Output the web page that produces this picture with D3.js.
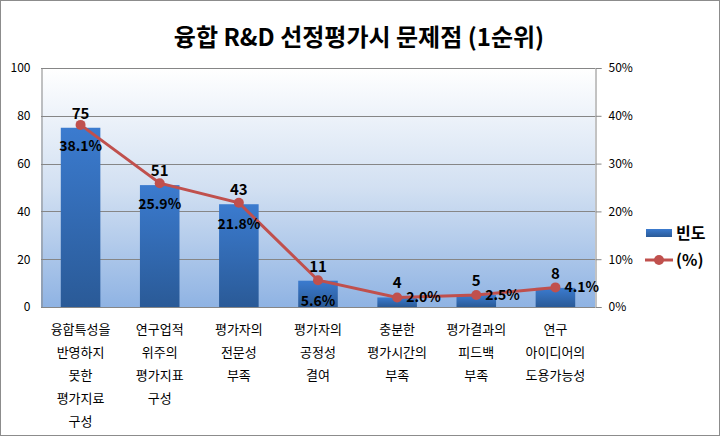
<!DOCTYPE html>
<html><head><meta charset="utf-8">
<script src="https://cdn.jsdelivr.net/npm/d3@7"></script>
<style>
body{margin:0;background:#fff;}
text{font-family:"Noto Sans CJK KR","Noto Sans",sans-serif;}
</style></head>
<body><svg id="c" width="721" height="437"></svg>
<script>
const categories = [
  ["융합특성을","반영하지","못한","평가지료","구성"],
  ["연구업적","위주의","평가지표","구성"],
  ["평가자의","전문성","부족"],
  ["평가자의","공정성","결여"],
  ["충분한","평가시간의","부족"],
  ["평가결과의","피드백","부족"],
  ["연구","아이디어의","도용가능성"]
];
const freq = [75, 51, 43, 11, 4, 5, 8];
const pct = [38.1, 25.9, 21.8, 5.6, 2.0, 2.5, 4.1];
const leftTicks = [0, 20, 40, 60, 80, 100];
const rightTicks = [0, 10, 20, 30, 40, 50];
const title = "융합 R&D 선정평가시 문제점 (1순위)";
const legendLabels = ["빈도", "(%)"];

const svg = d3.select("#c");
const L = 41, R = 595, T = 68, B = 307;

const defs = svg.append("defs");
const bg = defs.append("linearGradient").attr("id","bg").attr("x1",0).attr("y1",0).attr("x2",0).attr("y2",1);
bg.append("stop").attr("offset","0%").attr("stop-color","#ffffff");
bg.append("stop").attr("offset","50%").attr("stop-color","#d2e0f2");
bg.append("stop").attr("offset","100%").attr("stop-color","#8fb3e3");
const bgr = defs.append("linearGradient").attr("id","bar").attr("x1",0).attr("y1",0).attr("x2",0).attr("y2",1);
bgr.append("stop").attr("offset","0%").attr("stop-color","#3b7bcf");
bgr.append("stop").attr("offset","100%").attr("stop-color","#2a5a97");

svg.append("rect").attr("x",0.5).attr("y",0.5).attr("width",719).attr("height",435)
  .attr("fill","#fff").attr("stroke","#8c8c8c");

svg.append("text").attr("x",359).attr("y",46).attr("text-anchor","middle")
  .attr("font-size",24).attr("font-weight","bold").text(title);

const x = d3.scaleBand().domain(d3.range(categories.length)).range([L,R]).paddingInner(0.5).paddingOuter(0.25);
const y = d3.scaleLinear().domain([0,100]).range([B,T]);
const y2 = d3.scaleLinear().domain([0,50]).range([B,T]);

svg.append("rect").attr("x",L).attr("y",T).attr("width",R-L).attr("height",B-T).attr("fill","url(#bg)");

// gridlines
svg.append("g").selectAll("line").data(leftTicks).join("line")
  .attr("x1",L).attr("x2",R).attr("y1",d=>Math.round(y(d))+0.5).attr("y2",d=>Math.round(y(d))+0.5)
  .attr("stroke","#868686");

// left axis
const ga = svg.append("g").attr("transform",`translate(${L+0.5},0)`)
  .call(d3.axisLeft(y).tickValues(leftTicks).tickSize(0).tickPadding(11));
ga.select(".domain").attr("stroke","#868686");
ga.selectAll("text").attr("font-size",12).attr("fill","#000");

// right axis
const gr = svg.append("g").attr("transform",`translate(${R+0.5},0)`)
  .call(d3.axisRight(y2).tickValues(rightTicks).tickSize(6).tickPadding(7).tickFormat(d=>d+"%"));
gr.select(".domain").attr("stroke","#868686");
gr.selectAll("line").attr("stroke","#868686");
gr.selectAll("text").attr("font-size",12).attr("fill","#000");

// bars
svg.append("g").selectAll("rect").data(freq).join("rect")
  .attr("x",(d,i)=>x(i)).attr("width",x.bandwidth())
  .attr("y",d=>y(d)).attr("height",d=>B-y(d)).attr("fill","url(#bar)");

// bottom axis line
svg.append("line").attr("x1",L).attr("x2",R).attr("y1",B+0.5).attr("y2",B+0.5).attr("stroke","#868686");

const cx = i => x(i) + x.bandwidth()/2;

// line
const line = d3.line().x((d,i)=>cx(i)).y(d=>y2(d));
svg.append("path").datum(pct).attr("d",line).attr("fill","none")
  .attr("stroke","#c0504d").attr("stroke-width",3);
svg.append("g").selectAll("circle").data(pct).join("circle")
  .attr("cx",(d,i)=>cx(i)).attr("cy",d=>y2(d)).attr("r",5).attr("fill","#c0504d");

// value labels
svg.append("g").selectAll("text").data(freq).join("text")
  .attr("x",(d,i)=>cx(i)).attr("y",d=>y(d)-9).attr("text-anchor","middle")
  .attr("font-size",15).attr("font-weight","bold").text(d=>d);

// percent labels
svg.append("g").selectAll("text").data(pct).join("text")
  .attr("x",(d,i)=> i<4 ? cx(i) : cx(i)+9)
  .attr("y",(d,i)=> i<4 ? y2(d)+26 : y2(d)+5)
  .attr("text-anchor",(d,i)=> i<4 ? "middle" : "start")
  .attr("font-size",14).attr("font-weight","bold").text(d=>d.toFixed(1)+"%");

// category labels
const gx = svg.append("g");
categories.forEach((lines,i)=>{
  lines.forEach((t,k)=>{
    gx.append("text").attr("x",cx(i)).attr("y",334+23*k).attr("text-anchor","middle")
      .attr("font-size",13).text(t);
  });
});

// legend
svg.append("rect").attr("x",646).attr("y",229).attr("width",26).attr("height",8).attr("fill","url(#bar)");
svg.append("text").attr("x",676).attr("y",239).attr("font-size",16).attr("font-weight","bold").text(legendLabels[0]);
svg.append("line").attr("x1",645).attr("x2",673).attr("y1",260).attr("y2",260).attr("stroke","#c0504d").attr("stroke-width",3);
svg.append("circle").attr("cx",659).attr("cy",260).attr("r",5).attr("fill","#c0504d");
svg.append("text").attr("x",676).attr("y",266).attr("font-size",16).attr("font-weight","bold").text(legendLabels[1]);
</script>
</body></html>
